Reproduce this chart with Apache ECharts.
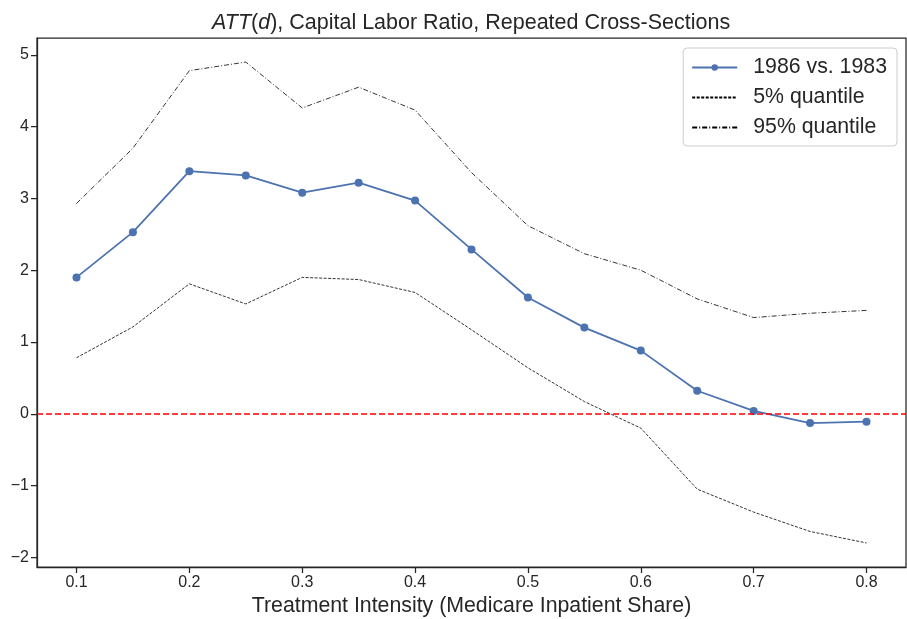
<!DOCTYPE html>
<html>
<head>
<meta charset="utf-8">
<script src="https://cdn.jsdelivr.net/npm/echarts@6/dist/echarts.min.js"></script>
<style>
  html, body { margin: 0; padding: 0; background: #fff; }
  #chart { width: 907px; height: 619px; }
</style>
</head>
<body>
<div id="chart"></div>
<script>
// Treatment intensity grid and estimated effects
const intensity = [0.1, 0.15, 0.2, 0.25, 0.3, 0.35, 0.4, 0.45, 0.5, 0.55, 0.6, 0.65, 0.7, 0.75, 0.8];
const att = [1.90, 2.53, 3.38, 3.32, 3.08, 3.22, 2.97, 2.29, 1.62, 1.20, 0.88, 0.32, 0.04, -0.13, -0.11];
const q05 = [0.78, 1.21, 1.81, 1.53, 1.90, 1.87, 1.69, 1.17, 0.64, 0.17, -0.20, -1.05, -1.37, -1.64, -1.80];
const q95 = [2.93, 3.70, 4.78, 4.90, 4.26, 4.55, 4.23, 3.36, 2.62, 2.23, 2.00, 1.60, 1.34, 1.40, 1.44];
const xTicks = [0.1, 0.2, 0.3, 0.4, 0.5, 0.6, 0.7, 0.8];
const yTicks = [-2, -1, 0, 1, 2, 3, 4, 5];

const pairs = ys => intensity.map((x, i) => [x, ys[i]]);
const font = 'Liberation Sans, Arial, sans-serif';
const ink = '#262626';
const bigText = 21.3;
const tickText = 16;

const chart = echarts.init(document.getElementById('chart'), null, { renderer: 'canvas' });
chart.setOption({
  animation: false,
  backgroundColor: '#ffffff',
  textStyle: { fontFamily: font },
  // title is centred over the plotting area rather than the whole canvas
  title: {
    text: '{it|ATT}({it|d}), Capital Labor Ratio, Repeated Cross-Sections',
    left: 207,
    top: 7,
    textStyle: {
      fontFamily: font, fontSize: 21.5, fontWeight: 'normal', color: ink,
      rich: { it: { fontFamily: font, fontSize: 21.5, fontStyle: 'italic', color: ink } }
    }
  },
  legend: {
    orient: 'vertical',
    right: 10,
    top: 48,
    padding: [9, 10, 8, 8],
    itemWidth: 45,
    itemHeight: 8,
    itemGap: 9,
    backgroundColor: '#ffffff',
    borderColor: '#cccccc',
    borderWidth: 1,
    borderRadius: 4,
    textStyle: { fontFamily: font, fontSize: bigText, lineHeight: 21, color: ink, padding: [0, 0, 0, 11] },
    data: [
      { name: '1986 vs. 1983' },
      { name: '5% quantile', itemStyle: { opacity: 0 } },
      { name: '95% quantile', itemStyle: { opacity: 0 } }
    ]
  },
  grid: {
    left: 37, right: 1, top: 38, bottom: 52,
    outerBoundsMode: 'none',
    containLabel: false,
    show: true, borderColor: ink, borderWidth: 1.25, backgroundColor: 'transparent'
  },
  xAxis: {
    type: 'value',
    min: 0.065, max: 0.835,
    name: 'Treatment Intensity (Medicare Inpatient Share)',
    nameLocation: 'middle',
    nameGap: 27,
    nameTextStyle: { fontFamily: font, fontSize: bigText, color: ink, verticalAlign: 'top' },
    splitLine: { show: false },
    axisLine: { show: true, onZero: false, lineStyle: { color: ink, width: 1.25 } },
    axisTick: { show: true, inside: false, length: 6, lineStyle: { color: ink, width: 1.25 }, customValues: xTicks },
    axisLabel: { fontFamily: font, fontSize: tickText, color: ink, margin: 8, customValues: xTicks, formatter: v => v.toFixed(1) }
  },
  yAxis: {
    type: 'value',
    min: -2.135, max: 5.235,
    splitLine: { show: false },
    axisLine: { show: true, onZero: false, lineStyle: { color: ink, width: 1.25 } },
    axisTick: { show: true, inside: false, length: 6, lineStyle: { color: ink, width: 1.25 }, customValues: yTicks },
    axisLabel: { fontFamily: font, fontSize: tickText, color: ink, margin: 8, customValues: yTicks, formatter: v => String(Math.round(v)).replace('-', '\u2212') }
  },
  series: [
    {
      name: '1986 vs. 1983',
      type: 'line',
      data: pairs(att),
      symbol: 'circle',
      symbolSize: 8,
      showAllSymbol: true,
      lineStyle: { color: '#4c72b0', width: 1.75 },
      itemStyle: { color: '#4c72b0' },
      z: 3
    },
    {
      name: '5% quantile',
      type: 'line',
      data: pairs(q05),
      symbol: 'none',
      lineStyle: { color: '#000000', width: 0.8, type: [3, 1.5] },
      itemStyle: { color: '#000000' },
      z: 2
    },
    {
      name: '95% quantile',
      type: 'line',
      data: pairs(q95),
      symbol: 'none',
      lineStyle: { color: '#000000', width: 0.8, type: [5, 2, 1, 2] },
      itemStyle: { color: '#000000' },
      z: 2
    },
    {
      name: 'zero',
      type: 'line',
      data: [],
      silent: true,
      z: 4,
      markLine: {
        silent: true,
        symbol: 'none',
        label: { show: false },
        lineStyle: { color: '#ff0000', width: 1.5, type: [6, 3] },
        data: [{ yAxis: 0 }]
      }
    }
  ]
});
</script>
</body>
</html>
